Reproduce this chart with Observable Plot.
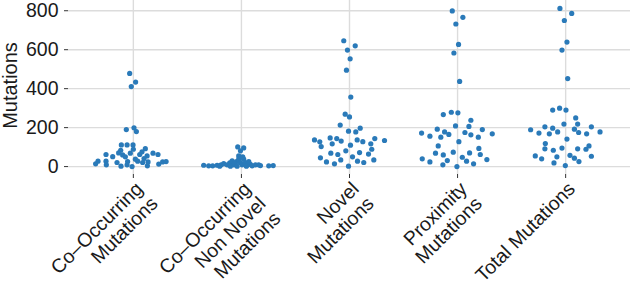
<!DOCTYPE html>
<html><head><meta charset="utf-8">
<script src="https://cdn.jsdelivr.net/npm/d3@7"></script>
<script src="https://cdn.jsdelivr.net/npm/@observablehq/plot@0.6"></script>
<style>body{margin:0;background:#fff}</style>
</head><body><div id="chart"></div>
<script>
// Categories and their (multi-line) tick labels
const categories = ["Co-Occurring Mutations", "Co-Occurring Non Novel Mutations", "Novel Mutations", "Proximity Mutations", "Total Mutations"];
const categoryLabels = ["Co–Occurring\nMutations", "Co–Occurring\nNon Novel\nMutations", "Novel\nMutations", "Proximity\nMutations", "Total Mutations"];
const yTicks = [0, 200, 400, 600, 800];

// Mutation counts per group and the quasirandom horizontal jitter (category units)
const coOccurring = [190,199,180,111,111,111,84,89,92,62,51,70,60,50,69,62,76,55,69,62,28,14,28,9,21,2,26,9,0,38,28,21,4,24,24,26,13,41,478,434,411];
const coOccurringJitter = [-0.065,0.006,0.028,-0.111,-0.058,-0.003,-0.117,0,0.111,-0.253,-0.191,-0.136,-0.099,-0.074,-0.028,0.059,0.080,0.127,0.182,0.228,-0.327,-0.349,-0.253,-0.250,-0.151,-0.114,-0.053,-0.058,-0.012,0.019,0.040,0.086,0.130,0.136,0.271,0.303,0.235,0.099,-0.034,0.021,-0.019];

const coOccurringNonNovel = [101,96,81,7,4,4,7,9,15,9,19,29,9,26,38,21,9,38,21,9,12,9,9,5,4,5,55,50,15,2,2,2,4,2,26];
const coOccurringNonNovelJitter = [-0.034,0.021,-0.009,-0.349,-0.303,-0.266,-0.225,-0.188,-0.164,-0.132,-0.108,-0.086,-0.071,-0.046,-0.025,-0.009,0.006,0.021,0.037,0.058,0.083,0.130,0.160,0.176,0.253,0.294,-0.025,0.012,-0.065,-0.102,-0.040,0.046,0.099,-0.201,0.068];

const novel = [357,269,255,213,197,182,178,137,127,103,147,117,144,131,110,137,128,117,144,134,89,81,72,64,69,62,50,45,24,14,34,2,28,21,34,646,620,598,553,495];
const novelJitter = [0.012,-0.040,0,-0.086,0.099,-0.009,0.058,-0.324,-0.275,-0.262,-0.179,-0.160,-0.118,-0.077,0.009,0.071,0.123,0.197,0.234,0.324,0.206,-0.034,0.093,0.176,-0.173,-0.108,0.028,-0.269,-0.213,-0.139,-0.081,-0.009,0.074,0.132,0.225,-0.053,0.053,-0.019,0.006,-0.028];

const proximity = [267,279,276,238,209,206,192,190,172,156,151,178,165,175,163,151,168,128,106,93,69,60,74,70,62,48,40,24,31,9,0,28,14,36,799,766,732,627,583,437];
const proximityJitter = [-0.132,-0.058,0.003,0.123,-0.019,0.105,-0.188,0.229,-0.333,-0.256,-0.155,-0.120,-0.081,0.068,0.123,0.192,0.321,0.012,-0.179,0.197,-0.204,-0.132,-0.040,0.111,0.210,0.044,-0.327,-0.256,-0.095,-0.136,-0.006,0.083,0.148,0.271,-0.049,0.049,-0.016,0.009,-0.034,0.019];

const total = [290,300,290,250,218,218,204,197,192,204,189,172,168,178,175,168,178,141,118,91,84,95,91,89,106,55,40,50,58,43,26,53,19,5,812,786,750,639,598,452];
const totalJitter = [-0.120,-0.056,0.003,0.093,-0.016,0.111,-0.192,-0.120,0.081,0.238,-0.324,-0.247,-0.151,-0.074,0.120,0.194,0.318,0.012,-0.188,-0.192,-0.114,-0.034,0.111,0.188,0.216,-0.281,-0.222,-0.081,0.040,0.081,0.123,0.238,-0.108,-0.003,-0.053,0.056,-0.012,0.012,-0.034,0.019];

const groups = [
  [coOccurring, coOccurringJitter],
  [coOccurringNonNovel, coOccurringNonNovelJitter],
  [novel, novelJitter],
  [proximity, proximityJitter],
  [total, totalJitter]
];
const points = groups.flatMap(([vals, jit], i) => vals.map((v, k) => ({cat: i, x: i + jit[k], value: v, name: categories[i]})));
const catIdx = categories.map((_, i) => i);

const font = "'Liberation Sans', Arial, Helvetica, sans-serif";
const chart = Plot.plot({
  width: 630,
  height: 284,
  marginLeft: 68,
  marginRight: 0,
  marginTop: 0,
  marginBottom: 110,
  style: {fontFamily: font, fontSize: "19.5px", color: "#1a1a1a", background: "#fff"},
  x: {type: "linear", domain: [-0.6, 4.6]},
  y: {domain: [-40.6, 852.6]},
  marks: [
    Plot.gridY(yTicks, {stroke: "#dcdcdc", strokeOpacity: 1, strokeWidth: 1.4}),
    Plot.gridX(catIdx, {stroke: "#dcdcdc", strokeOpacity: 1, strokeWidth: 1.4}),
    Plot.axisY(yTicks, {tickSize: 4, tickPadding: 6, stroke: "#333", fontSize: 19.5, label: null}),
    Plot.axisX(catIdx, {tickSize: 4, stroke: "#333", tickFormat: () => "", label: null}),
    Plot.text(catIdx, {x: d => d, frameAnchor: "bottom", text: d => categoryLabels[d], rotate: -45, textAnchor: "end", lineAnchor: "top", dy: 5, fontSize: 19.5, lineHeight: 1.08, fill: "#1a1a1a"}),
    Plot.text(["Mutations"], {frameAnchor: "left", dx: -58, dy: -2, rotate: -90, textAnchor: "middle", lineAnchor: "middle", fontSize: 20, fill: "#1a1a1a"}),
    Plot.dot(points, {x: "x", y: "value", r: 2.6, fill: "#2a7ab9", stroke: null})
  ]
});
document.getElementById("chart").appendChild(chart);
</script>
</body></html>
